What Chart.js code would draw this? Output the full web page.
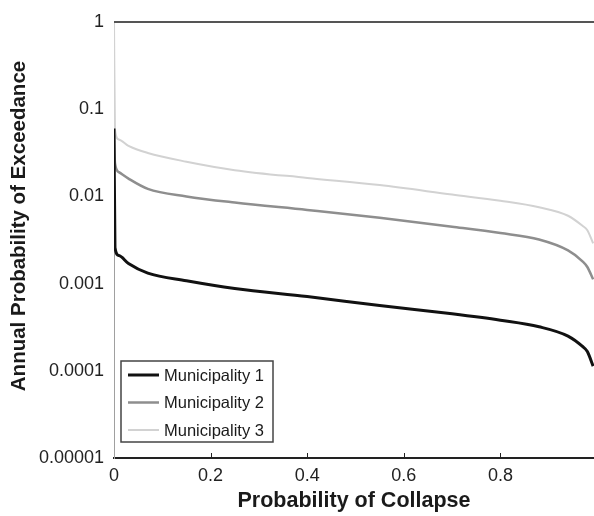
<!DOCTYPE html>
<html>
<head>
<meta charset="utf-8">
<script src="https://cdn.jsdelivr.net/npm/chart.js@4.4.0/dist/chart.umd.min.js"></script>
<style>
html,body{margin:0;padding:0;background:#fff;}
#wrap{width:594px;height:516px;position:relative;}
</style>
</head>
<body>
<div id="wrap"><canvas id="c" width="594" height="516"></canvas></div>
<script>
// ---- data ----
const xValues = [0, 0.002, 0.01, 0.03, 0.07, 0.15, 0.25, 0.4, 0.55, 0.7, 0.8, 0.88, 0.94, 0.97, 0.98, 0.992];
const municipality1 = [0.06, 0.0026, 0.0021, 0.0017, 0.00132, 0.00108, 0.00088, 0.00071, 0.00056, 0.00045, 0.00038, 0.00032, 0.00025, 0.00019, 0.000166, 0.000113];
const municipality2 = [0.05, 0.024, 0.019, 0.016, 0.0122, 0.0100, 0.0085, 0.0070, 0.0057, 0.0045, 0.0038, 0.0032, 0.0024, 0.0018, 0.00155, 0.00112];
const municipality3 = [1, 0.058, 0.045, 0.038, 0.0315, 0.025, 0.020, 0.0163, 0.0135, 0.0105, 0.0089, 0.0075, 0.0060, 0.0046, 0.0041, 0.0029];
const seriesNames = ['Municipality 1', 'Municipality 2', 'Municipality 3'];
const yTickValues = [1, 0.1, 0.01, 0.001, 0.0001, 0.00001];
const yTickLabels = ['1', '0.1', '0.01', '0.001', '0.0001', '0.00001'];
const xTickValues = [0, 0.2, 0.4, 0.6, 0.8];
const xTickLabels = ['0', '0.2', '0.4', '0.6', '0.8'];
const xTitle = 'Probability of Collapse';
const yTitle = 'Annual Probability of Exceedance';

const colors = ['#111111', '#8e8e8e', '#d2d2d2'];
const widths = [3, 2.5, 2];
const toPts = arr => xValues.map((x, i) => ({x: x, y: arr[i]}));

const FONT = "'Liberation Sans', Arial, Helvetica, sans-serif";

const decor = {
  id: 'decor',
  afterDraw(chart) {
    const ctx = chart.ctx;
    const a = chart.chartArea;
    const xs = chart.scales.x;
    ctx.save();
    // top frame line
    ctx.strokeStyle = '#555555';
    ctx.lineWidth = 2;
    ctx.beginPath();
    ctx.moveTo(a.left, a.top);
    ctx.lineTo(a.right, a.top);
    ctx.stroke();
    // inward ticks on x axis
    ctx.strokeStyle = '#222222';
    ctx.lineWidth = 1;
    xTickValues.forEach(v => {
      if (v === 0) return;
      const px = Math.round(xs.getPixelForValue(v)) + 0.5;
      ctx.beginPath();
      ctx.moveTo(px, a.bottom);
      ctx.lineTo(px, a.bottom - 5);
      ctx.stroke();
    });
    // legend box
    const bx = 121, by = 361, bw = 152, bh = 81;
    ctx.fillStyle = '#ffffff';
    ctx.fillRect(bx, by, bw, bh);
    ctx.strokeStyle = '#444444';
    ctx.lineWidth = 1.5;
    ctx.strokeRect(bx, by, bw, bh);
    ctx.font = '16.5px ' + FONT;
    ctx.textBaseline = 'middle';
    ctx.textAlign = 'left';
    chart.data.datasets.forEach((ds, i) => {
      const cy = 375 + i * 27.5;
      ctx.strokeStyle = ds.borderColor;
      ctx.lineWidth = ds.borderWidth;
      ctx.beginPath();
      ctx.moveTo(128, cy);
      ctx.lineTo(159, cy);
      ctx.stroke();
      ctx.fillStyle = '#1a1a1a';
      ctx.fillText(ds.label, 164, cy + 1);
    });
    // y axis title
    ctx.translate(19, 226);
    ctx.rotate(-Math.PI / 2);
    ctx.font = 'bold 20.5px ' + FONT;
    ctx.textAlign = 'center';
    ctx.textBaseline = 'middle';
    ctx.fillStyle = '#1a1a1a';
    ctx.fillText(yTitle, 0, 0);
    ctx.restore();
  }
};

new Chart(document.getElementById('c'), {
  type: 'line',
  data: {
    datasets: [municipality1, municipality2, municipality3].map((arr, i) => ({
      label: seriesNames[i],
      data: toPts(arr),
      borderColor: colors[i],
      backgroundColor: colors[i],
      borderWidth: widths[i],
      pointRadius: 0,
      fill: false,
      cubicInterpolationMode: 'monotone'
    }))
  },
  options: {
    responsive: false,
    animation: false,
    devicePixelRatio: 1,
    layout: {padding: {top: 22, right: 0, left: 0, bottom: 0}},
    plugins: {legend: {display: false}, tooltip: {enabled: false}},
    scales: {
      x: {
        type: 'linear',
        min: 0,
        max: 0.9938,
        afterBuildTicks: s => { s.ticks = xTickValues.map(v => ({value: v})); },
        afterFit: s => { s.height = 58; },
        ticks: {
          font: {family: FONT, size: 18},
          color: '#222222',
          padding: 7,
          maxRotation: 0,
          callback: (v, i) => xTickLabels[i]
        },
        grid: {display: false, drawTicks: false, tickLength: 0},
        border: {display: true, color: '#222222', width: 2},
        title: {
          display: true,
          text: xTitle,
          font: {family: FONT, size: 21.5, weight: 'bold'},
          color: '#1a1a1a',
          padding: {top: 0, bottom: 2}
        }
      },
      y: {
        type: 'logarithmic',
        min: 0.00001,
        max: 1,
        afterBuildTicks: s => { s.ticks = yTickValues.map(v => ({value: v})); },
        afterFit: s => { s.width = 114; },
        ticks: {
          font: {family: FONT, size: 18},
          color: '#222222',
          padding: 10,
          autoSkip: false,
          callback: (v, i) => yTickLabels[i]
        },
        grid: {display: false, drawTicks: false, tickLength: 0},
        border: {display: true, color: '#a0a0a0', width: 1}
      }
    }
  },
  plugins: [decor]
});
</script>
</body>
</html>
